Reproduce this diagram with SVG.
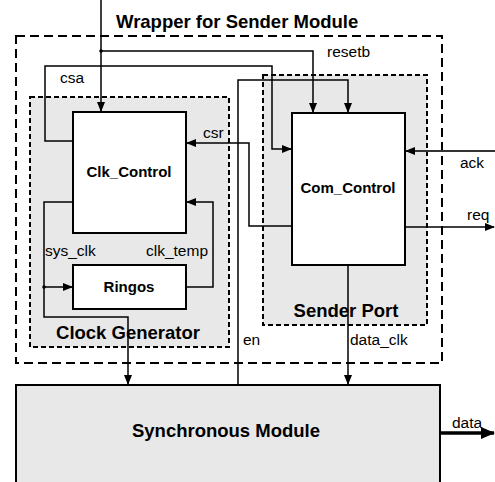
<svg xmlns="http://www.w3.org/2000/svg" width="495" height="482" viewBox="0 0 495 482">
<style>
.lbl{font-family:"Liberation Sans",Arial,sans-serif;font-size:15.5px;fill:#000}
.blbl{font-family:"Liberation Sans",Arial,sans-serif;font-size:15px;font-weight:bold;fill:#000}
.big{font-family:"Liberation Sans",Arial,sans-serif;font-size:18.5px;font-weight:bold;fill:#000}
.w{fill:none;stroke:#000;stroke-width:1.5}
.box{fill:#fff;stroke:#000;stroke-width:2}
.shade{fill:#e8e8e8;stroke:#000;stroke-width:2;stroke-dasharray:5 3}
</style>
<defs>
<marker id="ah" markerWidth="10" markerHeight="10" refX="9" refY="5" orient="auto" markerUnits="userSpaceOnUse">
<path d="M0,1 L10,5 L0,9 Z" fill="#000"/>
</marker>
<marker id="ahb" markerWidth="14" markerHeight="14" refX="13" refY="7" orient="auto" markerUnits="userSpaceOnUse">
<path d="M0,1 L14,7 L0,13 Z" fill="#000"/>
</marker>
</defs>

<g id="wrapper">
<rect x="16" y="36" width="426" height="327" fill="none" stroke="#000" stroke-width="2" stroke-dasharray="9 5"/>
<text class="big" x="116" y="28">Wrapper for Sender Module</text>
</g>

<g id="clock-generator">
<rect class="shade" x="30" y="97" width="199" height="250"/>
<text class="big" x="128" y="339" text-anchor="middle">Clock Generator</text>
</g>

<g id="sender-port">
<rect class="shade" x="263" y="75" width="164" height="250"/>
<text class="big" x="346" y="317" text-anchor="middle">Sender Port</text>
</g>

<g id="clk-control">
<rect class="box" x="73" y="112" width="113" height="121"/>
<text class="blbl" x="129" y="177" text-anchor="middle">Clk_Control</text>
</g>

<g id="ringos">
<rect class="box" x="73" y="265" width="113" height="44"/>
<text class="blbl" x="129" y="292" text-anchor="middle">Ringos</text>
</g>

<g id="com-control">
<rect class="box" x="292" y="113" width="113" height="152"/>
<text class="blbl" x="348" y="193" text-anchor="middle">Com_Control</text>
</g>

<g id="synchronous-module">
<rect x="16" y="385" width="424" height="110" fill="#e8e8e8" stroke="#000" stroke-width="2"/>
<text class="big" x="226" y="437" text-anchor="middle">Synchronous Module</text>
</g>

<g id="connectors">
<path class="w" d="M101,0 V111" marker-end="url(#ah)"/>
<circle cx="101" cy="51" r="1.8" fill="#000"/>
<path class="w" d="M101,51 H313 V112" marker-end="url(#ah)"/>
<path class="w" d="M73,141 H45 V66 H272 V149 H291" marker-end="url(#ah)"/>
<path class="w" d="M238,385 V80 H348 V112" marker-end="url(#ah)"/>
<path class="w" d="M292,226 H249 V143 H187" marker-end="url(#ah)"/>
<path class="w" d="M73,202 H44 V317 H128 V384" marker-end="url(#ah)"/>
<circle cx="44" cy="287" r="1.8" fill="#000"/>
<path class="w" d="M44,287 H72" marker-end="url(#ah)"/>
<path class="w" d="M186,287 H213 V202 H187" marker-end="url(#ah)"/>
<path d="M495,151 H406" fill="none" stroke="#333" stroke-width="2" marker-end="url(#ah)"/>
<path class="w" d="M405,227 H494" marker-end="url(#ah)"/>
<path class="w" d="M348,265 V384" marker-end="url(#ah)"/>
<path d="M440,433 H494" fill="none" stroke="#000" stroke-width="3.5" marker-end="url(#ahb)"/>
</g>

<g id="labels">
<text class="lbl" x="60" y="83">csa</text>
<text class="lbl" x="203" y="138">csr</text>
<text class="lbl" x="327" y="57">resetb</text>
<text class="lbl" x="460" y="168">ack</text>
<text class="lbl" x="467" y="220">req</text>
<text class="lbl" x="45" y="256">sys_clk</text>
<text class="lbl" x="146" y="256">clk_temp</text>
<text class="lbl" x="243" y="345">en</text>
<text class="lbl" x="350" y="345">data_clk</text>
<text class="lbl" x="452" y="428">data</text>
</g>
</svg>
